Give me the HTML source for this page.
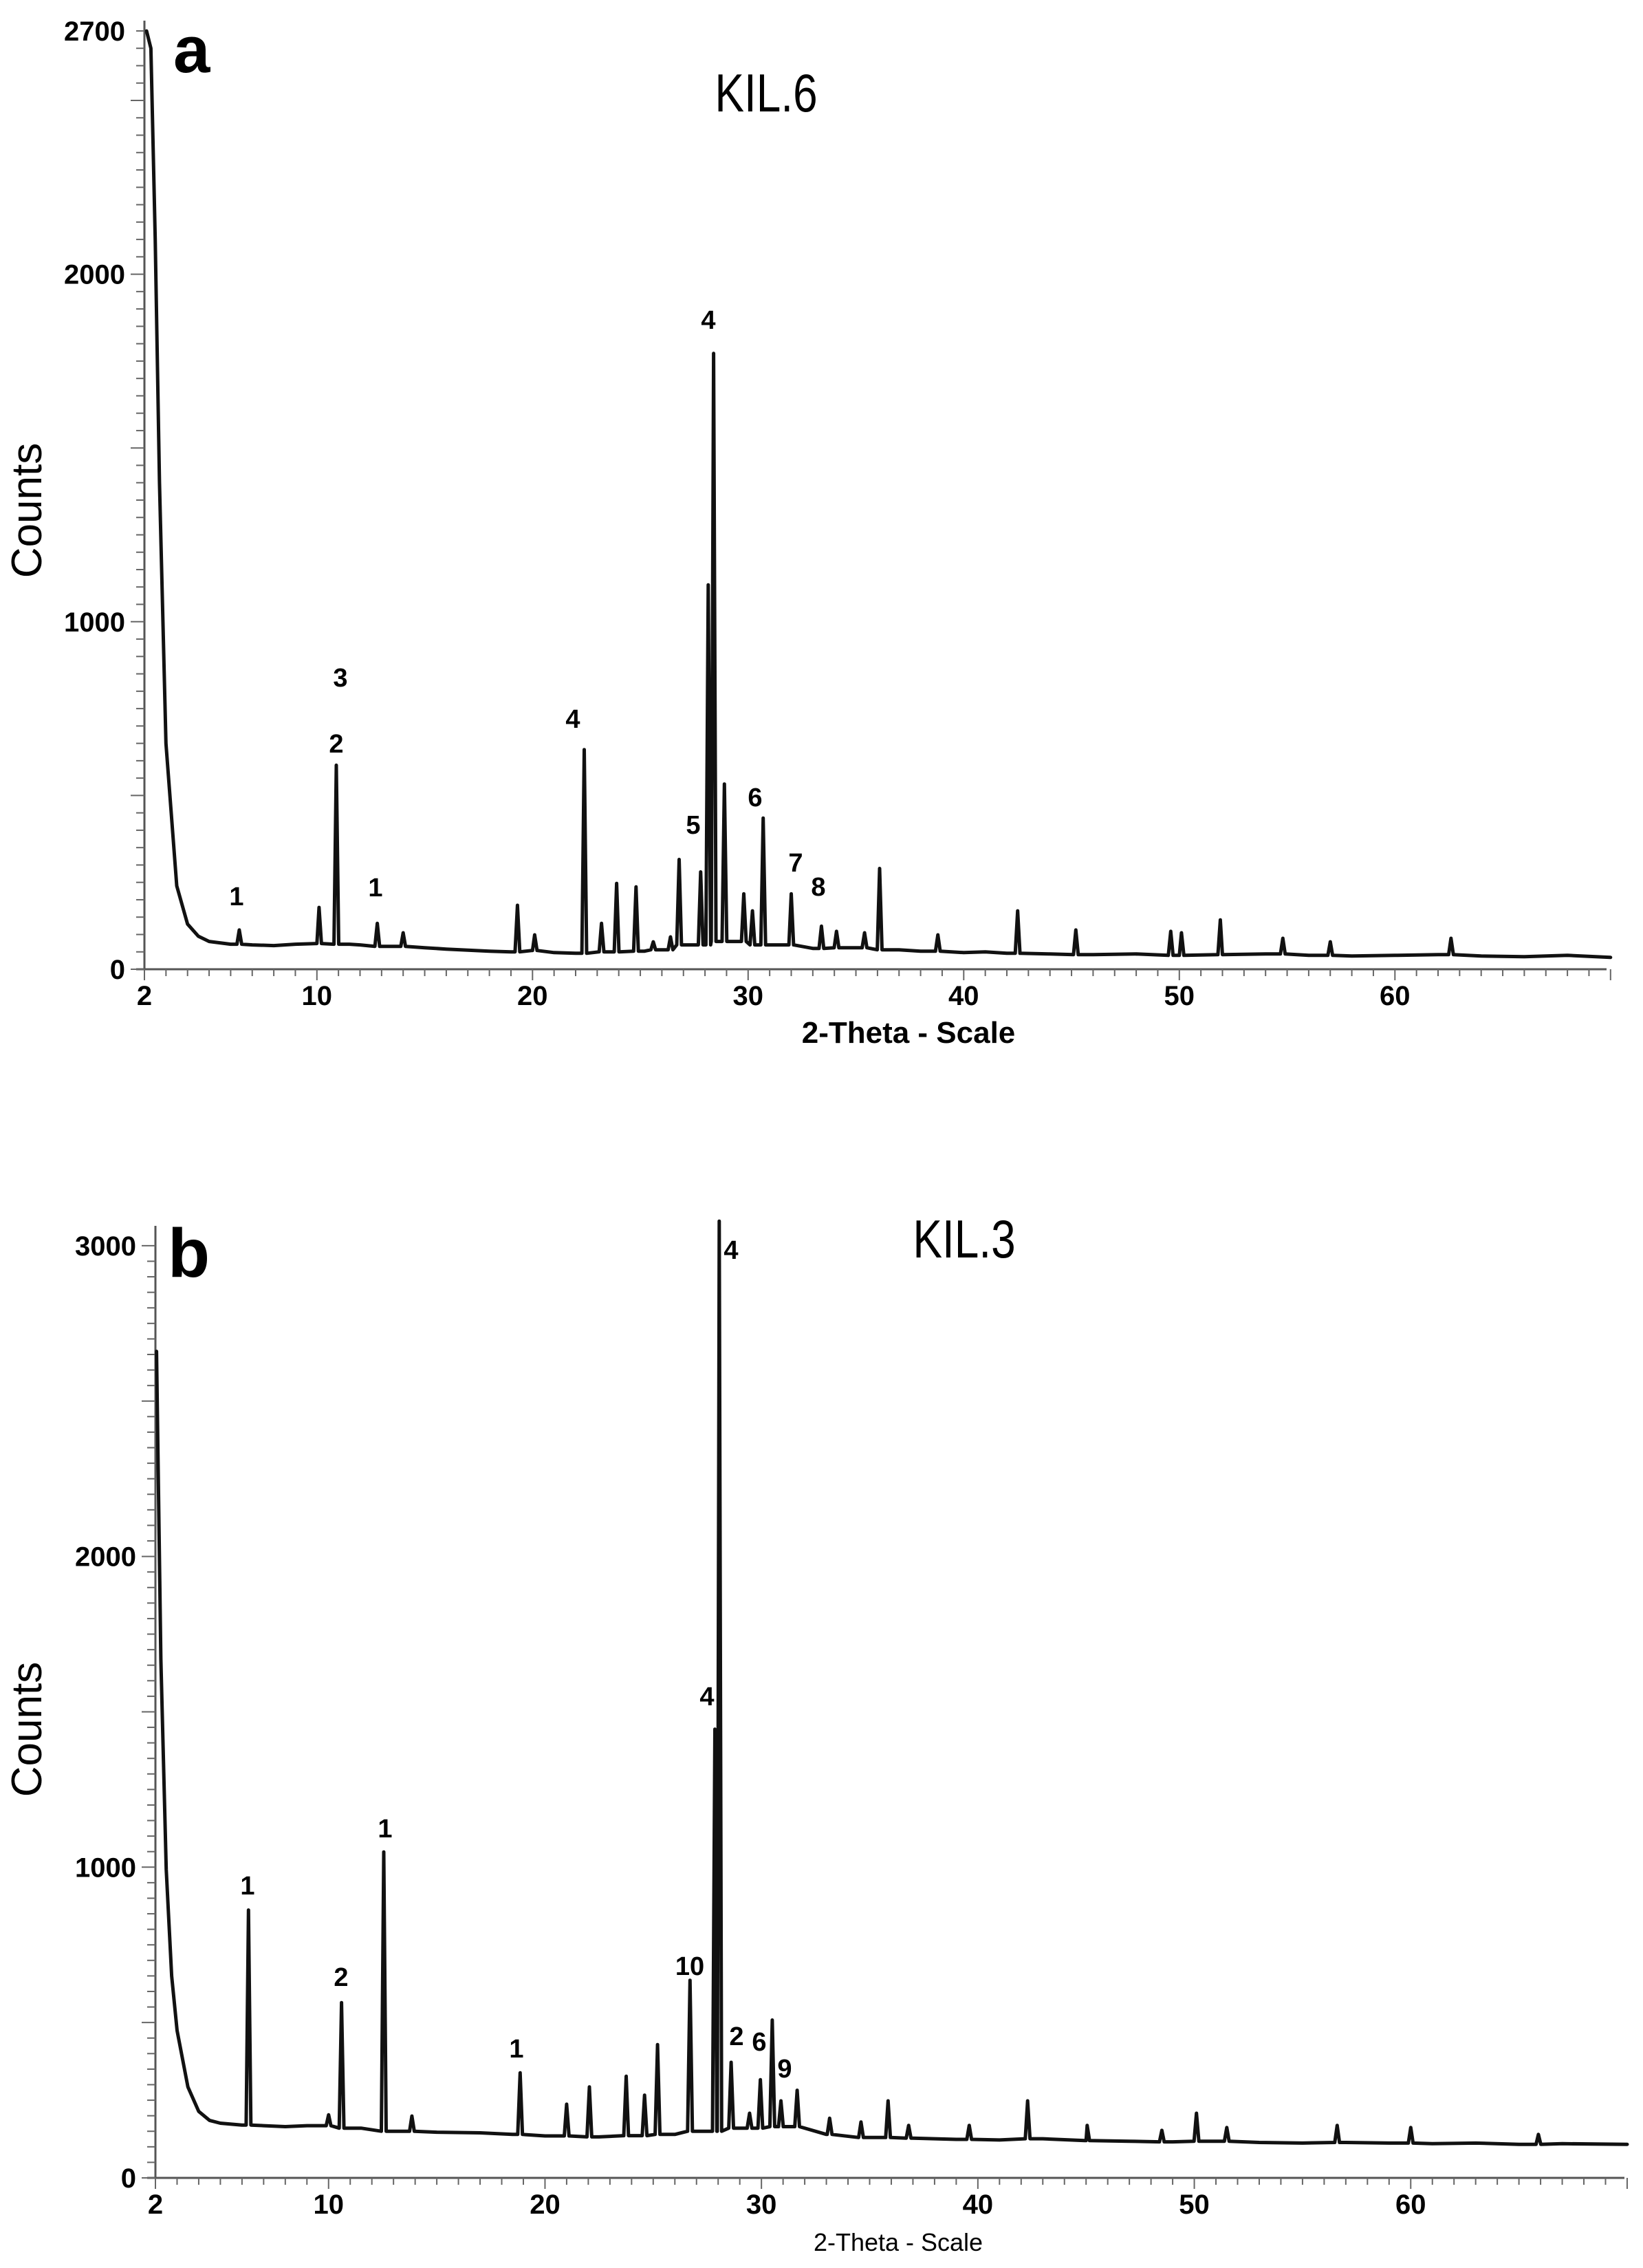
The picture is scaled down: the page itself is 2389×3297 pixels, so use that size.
<!DOCTYPE html>
<html><head><meta charset="utf-8"><style>
html,body{margin:0;padding:0;background:#fff;}
svg{display:block;}
text{font-family:"Liberation Sans",sans-serif;fill:#000;}
</style></head><body>
<svg id="fig" width="2389" height="3297" viewBox="0 0 2389 3297" xmlns="http://www.w3.org/2000/svg">
<rect width="2389" height="3297" fill="#fff"/>
<g id="pa"></g>
<g id="pb"></g>
</svg>
<script>
// Panel a data (KIL.6)
const aBaseX=[2.1,2.3,2.5,2.7,3.0,3.5,4.0,4.5,5,6,7,8,9,10,11.5,12,13.5,15,16,17,18,19,20,21,22,23.5,25.2,26,27.2,29.3,31,33,35,37,38,40,41,42,44,46,48,50,52,54,56,58,60,62,64,66,68,70];
const aBaseY=[2700,2650,2100,1400,650,240,130,95,80,72,70,68,72,74,72,70,66,62,58,55,52,50,54,48,46,50,52,56,70,80,70,60,62,56,52,48,50,46,44,42,44,40,42,44,40,38,40,42,38,36,40,34];
const aPeakX=[6.4,10.1,10.9,12.8,14.0,19.3,20.1,22.4,23.2,23.9,24.8,25.6,26.4,26.8,27.8,28.15,28.4,28.9,29.8,30.2,30.7,32.0,33.4,34.1,35.4,36.1,38.8,42.5,45.2,49.6,50.1,51.9,54.8,57.0,62.6];
const aPeakY=[113,178,587,132,105,184,99,632,132,247,237,79,93,316,280,1106,1772,533,217,168,435,217,124,109,105,290,99,168,113,109,105,142,89,79,89];
const aYTicks=[0,1000,2000,2700];
const aXTicks=[2,10,20,30,40,50,60];
// Panel b data (KIL.3)
const bBaseX=[2.05,2.25,2.5,2.75,3.0,3.5,4.0,4.5,5,6,7,8,9,11.5,13,15,17,18.5,20,22.5,24,26,27.3,29,31.2,33,35,37,39,41,43,45,47,49,51,53,55,57,59,61,63,65,67,70];
const bBaseY=[2660,1670,993,650,474,293,214,185,176,170,168,165,168,160,150,147,145,140,135,132,136,140,150,160,165,140,130,128,124,122,126,120,118,116,118,114,112,114,112,110,112,108,110,108];
const bPeakX=[6.3,10.0,10.6,12.55,13.85,18.85,21.0,22.05,23.75,24.6,25.2,26.7,27.85,28.05,28.6,29.45,29.95,30.5,30.9,31.65,33.15,34.6,35.85,36.8,39.6,42.3,45.05,48.5,50.1,51.5,56.6,60.0,65.9];
const bPeakY=[862,203,564,1049,199,338,237,293,327,266,429,636,1444,3079,372,208,316,508,248,282,192,180,248,169,169,248,169,153,208,162,169,162,140];
const bYTicks=[0,1000,2000,3000];
const bXTicks=[2,10,20,30,40,50,60];

const NS="http://www.w3.org/2000/svg";
function mk(parent,tag,attrs,txt){const e=document.createElementNS(NS,tag);for(const k in attrs)e.setAttribute(k,attrs[k]);if(txt!==undefined)e.textContent=txt;parent.appendChild(e);return e;}

function drawPanel(g,cfg){
  const sx=v=>cfg.x0+(v-2)*cfg.kx;
  const sy=v=>cfg.y0-v*cfg.ky;
  const yax=mk(g,'line',{x1:cfg.x0,y1:sy(0),x2:cfg.x0,y2:cfg.yTop,stroke:'#555','stroke-width':3});
  
  
  const xax=mk(g,'line',{x1:cfg.x0-12,y1:cfg.y0,x2:cfg.xEnd,y2:cfg.y0,stroke:'#555','stroke-width':3});
  
  
  for(let c=0;c<=cfg.yMax;c+=50){
    const major=(c%500===0);
    const t=mk(g,'line',{x1:cfg.x0,y1:sy(c),x2:cfg.x0-(major?20:12),y2:sy(c),stroke:'#666','stroke-width':2});
    
    
  }
  for(let v=2;v<=70;v++){
    const major=(v%10===0||v===2);
    const t=mk(g,'line',{x1:sx(v),y1:cfg.y0,x2:sx(v),y2:cfg.y0+(major?16:10),stroke:'#666','stroke-width':2});
    
    
  }
  cfg.yTicks.forEach(v=>{
    const t=mk(g,'text',{x:cfg.x0-28,y:sy(v)+14,'text-anchor':'end','font-size':40,'font-weight':'bold'},String(v));
    
    
  });
  cfg.xTicks.forEach(v=>{
    const t=mk(g,'text',{x:sx(v),y:cfg.y0+52,'text-anchor':'middle','font-size':40,'font-weight':'bold'},String(v));
    
    
  });
  const pts=[];
  cfg.bx.forEach((x,i)=>pts.push([x,cfg.by[i]]));
  const baseAt=x=>{let bi=0,bd=1e9;cfg.bx.forEach((bx,i)=>{const d=Math.abs(bx-x);if(d<bd){bd=d;bi=i;}});return cfg.by[bi];};
  cfg.px.forEach((x,i)=>{const b=baseAt(x);pts.push([x-0.11,b]);pts.push([x,cfg.py[i]]);pts.push([x+0.11,b]);});
  pts.sort((a,b)=>a[0]-b[0]);
  const d=pts.map((p,i)=>(i?'L':'M')+sx(p[0]).toFixed(1)+' '+sy(p[1]).toFixed(1)).join(' ');
  const path=mk(g,'path',{d:d,fill:'none',stroke:'#111','stroke-width':5,'stroke-linejoin':'round','stroke-linecap':'round'});
  
  
}

const ga=document.getElementById('pa');
drawPanel(ga,{x0:210,kx:31.35,y0:1409,ky:0.5052,yTop:30,xEnd:2336,yMax:2700,yTicks:aYTicks,xTicks:aXTicks,bx:aBaseX,by:aBaseY,px:aPeakX,py:aPeakY});
const gb=document.getElementById('pb');
drawPanel(gb,{x0:226,kx:31.47,y0:3166,ky:0.4517,yTop:1782,xEnd:2362,yMax:3000,yTicks:bYTicks,xTicks:bXTicks,bx:bBaseX,by:bBaseY,px:bPeakX,py:bPeakY});
</script>
<svg style="position:absolute;left:0;top:0" width="2389" height="3297" xmlns="http://www.w3.org/2000/svg">
<g font-family="Liberation Sans, sans-serif">
<text x="252" y="105" font-size="96" font-weight="bold">a</text>
<text x="1114" y="162" font-size="78" text-anchor="middle" transform="translate(1114 0) scale(0.82 1) translate(-1114 0)">KIL.6</text>
<text x="0" y="0" font-size="62" text-anchor="middle" transform="translate(60 742) rotate(-90)">Counts</text>
<text x="1321" y="1516" font-size="44" font-weight="bold" text-anchor="middle">2-Theta - Scale</text>
<g font-size="38" font-weight="bold" text-anchor="middle">
<text x="344" y="1316">1</text>
<text x="495" y="998">3</text>
<text x="489" y="1094">2</text>
<text x="546" y="1303">1</text>
<text x="833" y="1058">4</text>
<text x="1030" y="478">4</text>
<text x="1008" y="1212">5</text>
<text x="1098" y="1172">6</text>
<text x="1157" y="1267">7</text>
<text x="1190" y="1302">8</text>
</g>
<text x="244" y="1856" font-size="100" font-weight="bold">b</text>
<text x="1402" y="1828" font-size="78" text-anchor="middle" transform="translate(1402 0) scale(0.82 1) translate(-1402 0)">KIL.3</text>
<text x="0" y="0" font-size="62" text-anchor="middle" transform="translate(60 2514) rotate(-90)">Counts</text>
<text x="1306" y="3272" font-size="36" text-anchor="middle">2-Theta - Scale</text>
<g font-size="38" font-weight="bold" text-anchor="middle">
<text x="1063" y="1830">4</text>
<text x="1028" y="2479">4</text>
<text x="360" y="2754">1</text>
<text x="560" y="2671">1</text>
<text x="496" y="2887">2</text>
<text x="751" y="2991">1</text>
<text x="1003" y="2871">10</text>
<text x="1071" y="2973">2</text>
<text x="1104" y="2981">6</text>
<text x="1141" y="3020">9</text>
</g>
</g>
</svg>
</body></html>
